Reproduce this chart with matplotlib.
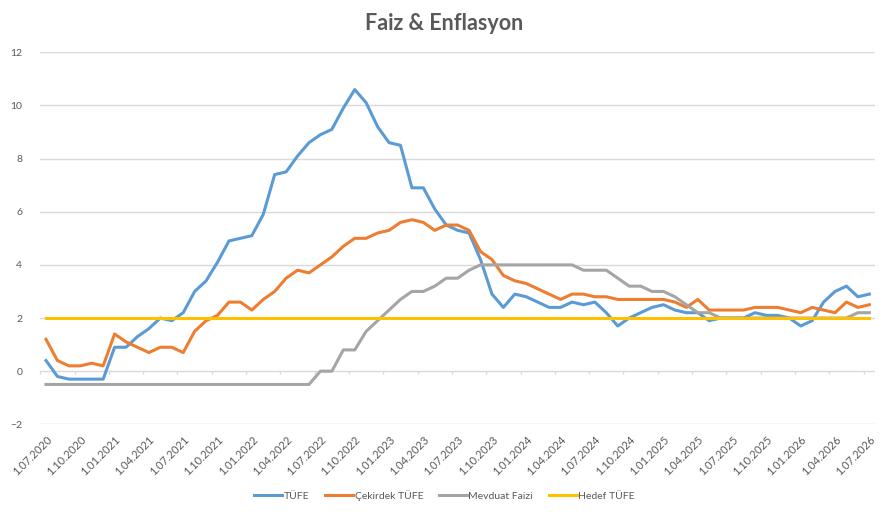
import numpy as np
import matplotlib.pyplot as plt

# monthly values, 07.2020 .. 07.2026
tufe = [0.4, -0.2, -0.3, -0.3, -0.3, -0.3, 0.9, 0.9, 1.3, 1.6,
        2.0, 1.9, 2.2, 3.0, 3.4, 4.1, 4.9, 5.0, 5.1, 5.9,
        7.4, 7.5, 8.1, 8.6, 8.9, 9.1, 9.9, 10.6, 10.1, 9.2,
        8.6, 8.5, 6.9, 6.9, 6.1, 5.5, 5.3, 5.2, 4.2, 2.9,
        2.4, 2.9, 2.8, 2.6, 2.4, 2.4, 2.6, 2.5, 2.6, 2.2,
        1.7, 2.0, 2.2, 2.4, 2.5, 2.3, 2.2, 2.2, 1.9, 2.0,
        2.0, 2.0, 2.2, 2.1, 2.1, 2.0, 1.7, 1.9, 2.6, 3.0,
        3.2, 2.8, 2.9]
cekirdek = [1.2, 0.4, 0.2, 0.2, 0.3, 0.2, 1.4, 1.1, 0.9, 0.7,
            0.9, 0.9, 0.7, 1.5, 1.9, 2.1, 2.6, 2.6, 2.3, 2.7,
            3.0, 3.5, 3.8, 3.7, 4.0, 4.3, 4.7, 5.0, 5.0, 5.2,
            5.3, 5.6, 5.7, 5.6, 5.3, 5.5, 5.5, 5.3, 4.5, 4.2,
            3.6, 3.4, 3.3, 3.1, 2.9, 2.7, 2.9, 2.9, 2.8, 2.8,
            2.7, 2.7, 2.7, 2.7, 2.7, 2.6, 2.4, 2.7, 2.3, 2.3,
            2.3, 2.3, 2.4, 2.4, 2.4, 2.3, 2.2, 2.4, 2.3, 2.2,
            2.6, 2.4, 2.5]
mevduat = [-0.5, -0.5, -0.5, -0.5, -0.5, -0.5, -0.5, -0.5, -0.5, -0.5,
           -0.5, -0.5, -0.5, -0.5, -0.5, -0.5, -0.5, -0.5, -0.5, -0.5,
           -0.5, -0.5, -0.5, -0.5, 0.0, 0.0, 0.8, 0.8, 1.5, 1.9,
           2.3, 2.7, 3.0, 3.0, 3.2, 3.5, 3.5, 3.8, 4.0, 4.0,
           4.0, 4.0, 4.0, 4.0, 4.0, 4.0, 4.0, 3.8, 3.8, 3.8,
           3.5, 3.2, 3.2, 3.0, 3.0, 2.8, 2.5, 2.2, 2.2, 2.0,
           2.0, 2.0, 2.0, 2.0, 2.0, 2.0, 2.0, 2.0, 2.0, 2.0,
           2.0, 2.2, 2.2]
hedef = [2.0, 2.0, 2.0, 2.0, 2.0, 2.0, 2.0, 2.0, 2.0, 2.0,
         2.0, 2.0, 2.0, 2.0, 2.0, 2.0, 2.0, 2.0, 2.0, 2.0,
         2.0, 2.0, 2.0, 2.0, 2.0, 2.0, 2.0, 2.0, 2.0, 2.0,
         2.0, 2.0, 2.0, 2.0, 2.0, 2.0, 2.0, 2.0, 2.0, 2.0,
         2.0, 2.0, 2.0, 2.0, 2.0, 2.0, 2.0, 2.0, 2.0, 2.0,
         2.0, 2.0, 2.0, 2.0, 2.0, 2.0, 2.0, 2.0, 2.0, 2.0,
         2.0, 2.0, 2.0, 2.0, 2.0, 2.0, 2.0, 2.0, 2.0, 2.0,
         2.0, 2.0, 2.0]

tick_labels = ['1.07.2020', '1.10.2020', '1.01.2021', '1.04.2021', '1.07.2021',
               '1.10.2021', '1.01.2022', '1.04.2022', '1.07.2022', '1.10.2022',
               '1.01.2023', '1.04.2023', '1.07.2023', '1.10.2023', '1.01.2024',
               '1.04.2024', '1.07.2024', '1.10.2024', '1.01.2025', '1.04.2025',
               '1.07.2025', '1.10.2025', '1.01.2026', '1.04.2026', '1.07.2026']

plt.rcParams['font.family'] = ['Lato', 'DejaVu Sans']
txt = '#595959'
grid = '#d9d9d9'

x = np.arange(len(tufe))

fig = plt.figure(figsize=(8.89, 5.14), dpi=100)
ax = fig.add_axes([0.0453, 0.1745, 0.939, 0.7237])

ax.plot(x, tufe, color='#5B9BD5', lw=2.2, label='TÜFE')
ax.plot(x, cekirdek, color='#ED7D31', lw=2.2, label='Çekirdek TÜFE')
ax.plot(x, mevduat, color='#A5A5A5', lw=2.2, label='Mevduat Faizi')
ax.plot(x, hedef, color='#FFC000', lw=2.2, label='Hedef TÜFE')

ax.set_xlim(-0.5, len(tufe) - 0.5)
ax.set_ylim(-2, 12)
ax.set_yticks(range(-2, 13, 2))
ax.yaxis.grid(True, color=grid, lw=1)
ax.set_axisbelow(True)
for s in ax.spines.values():
    s.set_visible(False)
ax.tick_params(axis='y', length=0, pad=13, labelsize=7.5, labelcolor=txt)

# category labels at the bottom
ax.set_xticks(x[::3])
ax.set_xticklabels(tick_labels, rotation=45, ha='right', va='top',
                   rotation_mode='anchor', fontsize=8, color=txt)
ax.tick_params(axis='x', length=0, pad=7)

# tick marks on the zero line, between categories
sec = ax.secondary_xaxis(2 / 14)
sec.set_xticks(np.arange(-0.5, len(tufe) - 1, 3))
sec.set_xticklabels([])
sec.tick_params(length=2.5, width=1, color=grid, direction='out')
sec.spines['bottom'].set_visible(False)

fig.suptitle('Faiz & Enflasyon', x=0.5, y=0.975, fontsize=15.5, fontweight='bold', color=txt)
fig.legend(loc='center', bbox_to_anchor=(0.5, 0.036), ncol=4, frameon=False,
           fontsize=7.5, handlelength=2.7, handletextpad=0.15, columnspacing=1.5,
           labelcolor=txt)

fig.savefig('out.png', dpi=100)
